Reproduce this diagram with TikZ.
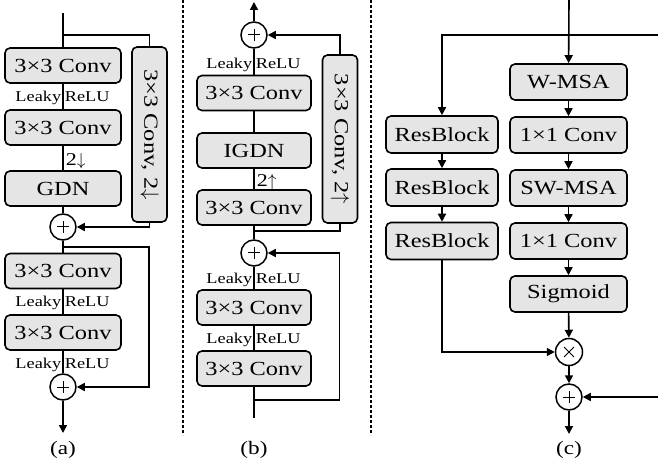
\documentclass[tikz,border=0pt]{standalone}
\usepackage{fontspec}
\usepackage{graphicx}
\setmainfont{Liberation Serif}[FakeStretch=1.22]
\usetikzlibrary{arrows.meta}

\tikzset{
  blk/.style={draw, line width=1.6pt, rounded corners=5pt, fill=gray!20, inner sep=0pt,
    font=\fontsize{20}{22}\selectfont},
  wa/.style={minimum width=116pt, minimum height=35pt},
  wb/.style={minimum width=114pt, minimum height=35pt},
  wc/.style={minimum width=117pt, minimum height=36pt},
  wr/.style={minimum width=112pt, minimum height=37pt},
  side/.style={minimum width=35pt, minimum height=175pt},
  sumnode/.style={circle, draw, line width=1.5pt, minimum size=26pt, inner sep=0pt,
    path picture={\draw[line width=1pt]
      ([xshift=-6pt]path picture bounding box.center) -- ([xshift=6pt]path picture bounding box.center)
      ([yshift=-6pt]path picture bounding box.center) -- ([yshift=6pt]path picture bounding box.center);}},
  mulnode/.style={circle, draw, line width=1.5pt, minimum size=27pt, inner sep=0pt,
    path picture={\draw[line width=1pt]
      ([shift={(-5pt,-5pt)}]path picture bounding box.center) -- ([shift={(5pt,5pt)}]path picture bounding box.center)
      ([shift={(-5pt,5pt)}]path picture bounding box.center) -- ([shift={(5pt,-5pt)}]path picture bounding box.center);}},
  lblL/.style={anchor=base east, inner sep=1pt, font=\fontsize{15}{16}\selectfont},
  lblR/.style={anchor=base west, inner sep=1pt, font=\fontsize{15}{16}\selectfont},
  scl/.style={anchor=base west, inner sep=2pt, font=\fontsize{18}{19}\selectfont},
  captxt/.style={font=\fontsize{19}{21}\selectfont},
  arr/.style={-{Triangle[length=8pt,width=8pt]}},
  sep/.style={line width=1.5pt, dash pattern=on 3pt off 2pt}
}

\begin{document}
\begin{tikzpicture}[x=1pt, y=-1pt, line width=1.6pt]
\useasboundingbox (0,0) rectangle (658,470);

% (a)
\node[blk, wa] (a1) at (63,65.5) {3×3 Conv};
\node[blk, wa] (a2) at (63,127.5) {3×3 Conv};
\node[blk, wa] (a3) at (63,188.5) {GDN};
\node[blk, side] (as) at (149.5,134.5) {\rotatebox{-90}{3×3 Conv, 2$\downarrow$}};
\node[sumnode] (ap1) at (63,227) {};
\node[blk, wa] (a4) at (63,271) {3×3 Conv};
\node[blk, wa] (a5) at (63,332.5) {3×3 Conv};
\node[sumnode] (ap2) at (63,387) {};
\coordinate (ain) at (63,13);
\coordinate (abr1) at (63,35);
\coordinate (abr2) at (63,247);
\coordinate (ar) at (149,247);
\coordinate (aout) at (63,433);

\node[lblL] (la1) at (63,102) {Leaky};
\node[lblR] (ra1) at (63,102) {ReLU};
\node[scl] (da) at (63,166) {2$\downarrow$};
\node[lblL] (la2) at (63,306) {Leaky};
\node[lblR] (ra2) at (63,306) {ReLU};
\node[lblL] (la3) at (63,368) {Leaky};
\node[lblR] (ra3) at (63,368) {ReLU};

\draw (ain) -- (a1) -- (a2) -- (a3) -- (ap1) -- (a4) -- (a5) -- (ap2);
\draw[arr] (ap2) -- (aout);
\draw (abr1) -| (as);
\draw[arr] (as) |- (ap1);
\draw[arr] (abr2) -- (ar) |- (ap2);
\node[captxt] (capa) at (63,450) {(a)};

\draw[sep] (183,0) -- (183,435);

% (b)
\node[blk, wb] (b1) at (254,93) {3×3 Conv};
\node[blk, wb] (b2) at (254,150.5) {IGDN};
\node[blk, wb] (b3) at (254,207.5) {3×3 Conv};
\node[blk, side, minimum height=168pt] (bs) at (340,139) {\rotatebox{-90}{3×3 Conv, 2$\uparrow$}};
\node[sumnode] (bp1) at (254,35) {};
\node[sumnode] (bp2) at (254,253) {};
\node[blk, wb] (b4) at (254,307.5) {3×3 Conv};
\node[blk, wb] (b5) at (254,368.5) {3×3 Conv};
\coordinate (bin) at (254,418);
\coordinate (bbr1) at (254,400);
\coordinate (bbr2) at (254,231);
\coordinate (br) at (339.5,400);
\coordinate (bout) at (254,2);

\node[lblL] (lb1) at (254,69) {Leaky};
\node[lblR] (rb1) at (254,69) {ReLU};
\node[scl] (ub) at (254,187) {2$\uparrow$};
\node[lblL] (lb2) at (254,283) {Leaky};
\node[lblR] (rb2) at (254,283) {ReLU};
\node[lblL] (lb3) at (254,343) {Leaky};
\node[lblR] (rb3) at (254,343) {ReLU};

\draw (bin) -- (b5) -- (b4) -- (bp2) -- (b3) -- (b2) -- (b1) -- (bp1);
\draw[arr] (bp1) -- (bout);
\draw (bbr2) -| (bs);
\draw[arr] (bs) |- (bp1);
\draw[arr] (bbr1) -- (br) |- (bp2);
\node[captxt] (capb) at (254,450) {(b)};

\draw[sep] (371,0) -- (371,435);

% (c)
\node[blk, wc] (cw) at (568.5,82) {W-MSA};
\node[blk, wc] (cc1) at (568.5,135) {1×1 Conv};
\node[blk, wc] (csw) at (568.5,188) {SW-MSA};
\node[blk, wc] (cc2) at (568.5,241) {1×1 Conv};
\node[blk, wc] (csig) at (568.5,294) {Sigmoid};
\node[mulnode] (cm) at (569,352) {};
\node[sumnode] (cp) at (569,397) {};
\node[blk, wr] (r1) at (442,134.5) {ResBlock};
\node[blk, wr] (r2) at (442,187.5) {ResBlock};
\node[blk, wr] (r3) at (442,241) {ResBlock};
\coordinate (cin) at (569,0);
\coordinate (cbr) at (569,35);
\coordinate (ce1) at (658,35);
\coordinate (ce2) at (658,397);
\coordinate (cout) at (569,434);

\draw[arr] (cin) -- (cw);
\foreach \s/\t in {cw/cc1, cc1/csw, csw/cc2, cc2/csig, csig/cm, cm/cp, r1/r2, r2/r3}
  \draw[arr] (\s) -- (\t);
\draw[arr] (cp) -- (cout);
\draw[arr] (cbr) -| (r1);
\draw[arr] (r3) |- (cm);
\draw (cbr) -- (ce1);
\draw[arr] (ce2) -- (cp);
\node[captxt] (capc) at (569,450) {(c)};
\end{tikzpicture}
\end{document}
